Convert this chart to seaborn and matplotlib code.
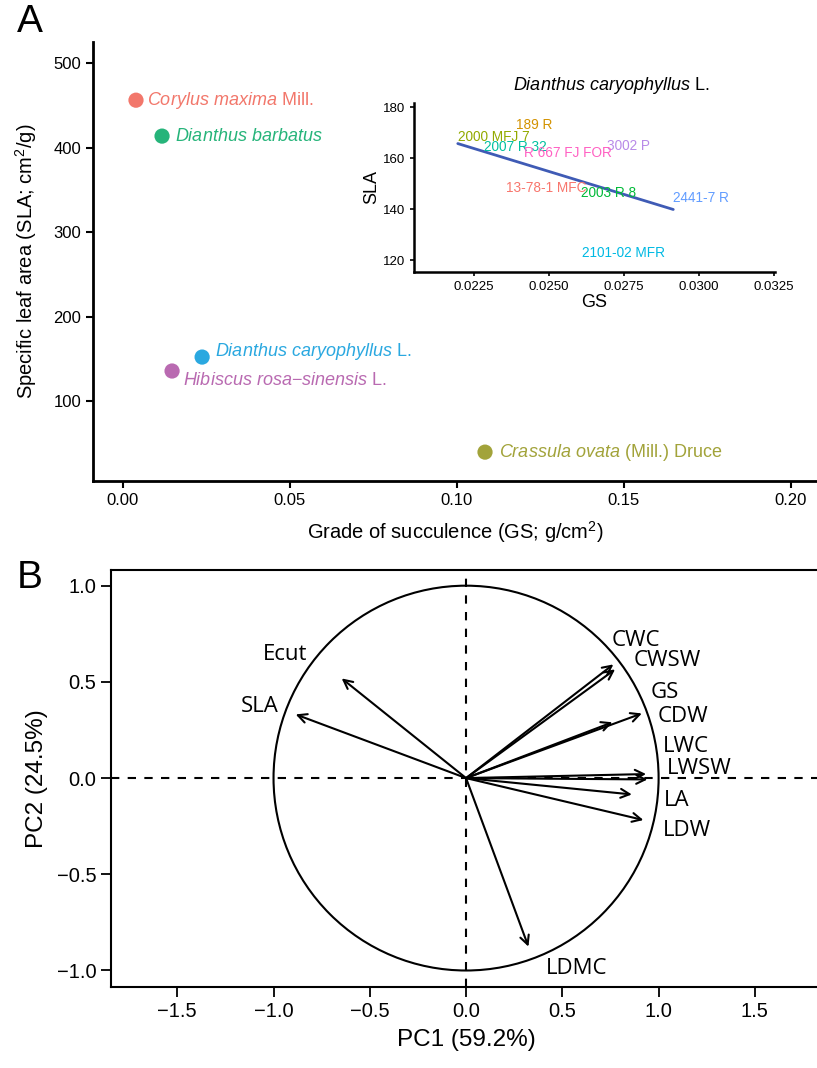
import numpy as np
import pandas as pd
import matplotlib
matplotlib.use("Agg")
import matplotlib.pyplot as plt
from matplotlib.patches import Circle
import seaborn as sns

# Panel A: species means
species = ["Corylus maxima", "Dianthus barbatus", "Dianthus caryophyllus",
           "Hibiscus rosa-sinensis", "Crassula ovata"]
species_labels = [r"$\it{Corylus\ maxima}$ Mill.", r"$\it{Dianthus\ barbatus}$",
                  r"$\it{Dianthus\ caryophyllus}$ L.", r"$\it{Hibiscus\ rosa{-}sinensis}$ L.",
                  r"$\it{Crassula\ ovata}$ (Mill.) Druce"]
species_gs = [0.0039, 0.0117, 0.0237, 0.0147, 0.1084]
species_sla = [456, 413.5, 152, 135.5, 39.5]
species_colors = ["#F2776B", "#26B47A", "#2AA8E0", "#B96AB1", "#A2A33A"]
label_offsets = [(8, 0), (9, 0), (9, 4), (8, -7), (10, 0)]

# Inset: Dianthus caryophyllus cultivars
cultivars = ["13-78-1 MFC", "189 R", "2000 MFJ 7", "2003 R 8", "2007 R 32",
             "2101-02 MFR", "2441-7 R", "3002 P", "R 667 FJ FOR"]
cult_gs = [0.02356, 0.02389, 0.02196, 0.02606, 0.02284, 0.02610, 0.02914, 0.02694, 0.02417]
cult_sla = [148.4, 173.0, 168.4, 146.2, 164.5, 122.6, 144.3, 164.6, 161.8]
cult_colors = ["#F8766D", "#D39200", "#93AA00", "#00BA38", "#00C19F",
               "#00B9E3", "#619CFF", "#B88AE8", "#FF61C3"]

# Panel B: PCA loadings
variables = ["Ecut", "SLA", "CWC", "CWSW", "GS", "CDW", "LWC", "LWSW", "LA", "LDW", "LDMC"]
pc1 = [-0.646, -0.885, 0.765, 0.774, 0.76, 0.913, 0.935, 0.942, 0.861, 0.921, 0.324]
pc2 = [0.518, 0.331, 0.591, 0.565, 0.29, 0.336, 0.021, -0.007, -0.085, -0.218, -0.876]
lab_x = [-0.94, -1.074, 0.883, 1.046, 1.034, 1.126, 1.143, 1.212, 1.094, 1.146, 0.575]
lab_y = [0.643, 0.374, 0.717, 0.609, 0.445, 0.318, 0.165, 0.052, -0.114, -0.270, -0.989]

sns.set_style("ticks", {"text.color": "black", "axes.labelcolor": "black",
                        "xtick.color": "black", "ytick.color": "black",
                        "axes.edgecolor": "black"})
plt.rcParams['font.family'] = ['Liberation Sans', 'DejaVu Sans']
plt.rcParams['mathtext.fontset'] = 'custom'
plt.rcParams['mathtext.rm'] = 'Liberation Sans'
plt.rcParams['mathtext.it'] = 'Liberation Sans:italic'

fig = plt.figure(figsize=(8.17, 10.68), dpi=100)

# ---- Panel A ----
axA = fig.add_axes([0.1138, 0.5496, 0.8862, 0.4111])
dfA = pd.DataFrame({"gs": species_gs, "sla": species_sla, "sp": species})
sns.scatterplot(data=dfA, x="gs", y="sla", hue="sp", palette=species_colors,
                s=120, edgecolor="none", legend=False, ax=axA)
for gx, sy, lab, col, off in zip(species_gs, species_sla, species_labels, species_colors, label_offsets):
    axA.annotate(lab, (gx, sy), xytext=off, textcoords="offset points",
                 ha="left", va="center", color=col, fontsize=13)
axA.set_xlim(-0.00898, 0.2078)
axA.set_ylim(5.3, 524.9)
axA.set_xticks([0, 0.05, 0.10, 0.15, 0.20])
axA.set_xticklabels(["0.00", "0.05", "0.10", "0.15", "0.20"])
axA.set_yticks([100, 200, 300, 400, 500])
axA.tick_params(labelsize=12, width=1.5, length=5, color="black")
for s in ["left", "bottom"]:
    axA.spines[s].set_linewidth(2)
sns.despine(ax=axA)
axA.set_xlabel(r"Grade of succulence (GS; g/cm$^2$)", fontsize=14.5, labelpad=8)
axA.set_ylabel(r"Specific leaf area (SLA; cm$^2$/g)", fontsize=14.5, labelpad=10)

# ---- Inset ----
axI = fig.add_axes([0.5067, 0.7453, 0.4419, 0.1583])
dfI = pd.DataFrame({"gs": cult_gs, "sla": cult_sla})
sns.regplot(data=dfI, x="gs", y="sla", scatter=False, ci=None,
            line_kws={"color": "#3F5BB5", "lw": 2}, ax=axI)
for gx, sy, lab, col in zip(cult_gs, cult_sla, cultivars, cult_colors):
    axI.text(gx, sy, lab, ha="left", va="center", color=col, fontsize=9.8)
axI.set_xlim(0.0205, 0.03253)
axI.set_ylim(115.3, 181.6)
axI.set_xticks([0.0225, 0.0250, 0.0275, 0.0300, 0.0325])
axI.set_xticklabels(["0.0225", "0.0250", "0.0275", "0.0300", "0.0325"])
axI.set_yticks([120, 140, 160, 180])
axI.tick_params(labelsize=9.5, width=1.2, length=3)
for s in ["left", "bottom"]:
    axI.spines[s].set_linewidth(1.8)
sns.despine(ax=axI)
axI.set_xlabel("GS", fontsize=13, labelpad=1)
axI.set_ylabel("SLA", fontsize=13, labelpad=2)
axI.set_title(r"$\it{Dianthus\ caryophyllus}$ L.", fontsize=13, pad=9, x=0.545)

# ---- Panel B ----
axB = fig.add_axes([0.1359, 0.0758, 0.8703, 0.3904])
axB.set_xlim(-1.844, 1.849)
axB.set_ylim(-1.086, 1.081)
axB.add_patch(Circle((0, 0), 1, fill=False, lw=1.5, color="black"))
axB.axhline(0, color="black", ls=(0, (4, 4)), lw=1.5)
axB.axvline(0, color="black", ls=(0, (4, 4)), lw=1.5)
for x, y in zip(pc1, pc2):
    axB.annotate("", xy=(x, y), xytext=(0, 0),
                 arrowprops=dict(arrowstyle="->", lw=1.5, color="black",
                                 mutation_scale=16, shrinkA=0, shrinkB=0))
for x, y, lab in zip(lab_x, lab_y, variables):
    axB.text(x, y, lab, ha="center", va="center", fontsize=16, family="Open Sans")
axB.set_xticks([-1.5, -1.0, -0.5, 0.0, 0.5, 1.0, 1.5])
axB.set_xticklabels(["\u22121.5", "\u22121.0", "\u22120.5", "0.0", "0.5", "1.0", "1.5"])
axB.set_yticks([-1.0, -0.5, 0.0, 0.5, 1.0])
axB.set_yticklabels(["\u22121.0", "\u22120.5", "0.0", "0.5", "1.0"])
axB.tick_params(labelsize=14.5, width=1.3, length=7, direction="out")
for s in axB.spines.values():
    s.set_linewidth(1.5)
axB.set_xlabel("PC1 (59.2%)", fontsize=17.5, labelpad=6)
axB.set_ylabel("PC2 (24.5%)", fontsize=17.5, labelpad=6)

fig.text(0.0367, 0.979, "A", fontsize=28, ha="center", va="center")
fig.text(0.0367, 0.459, "B", fontsize=28, ha="center", va="center")

fig.savefig("out.png", dpi=100)
